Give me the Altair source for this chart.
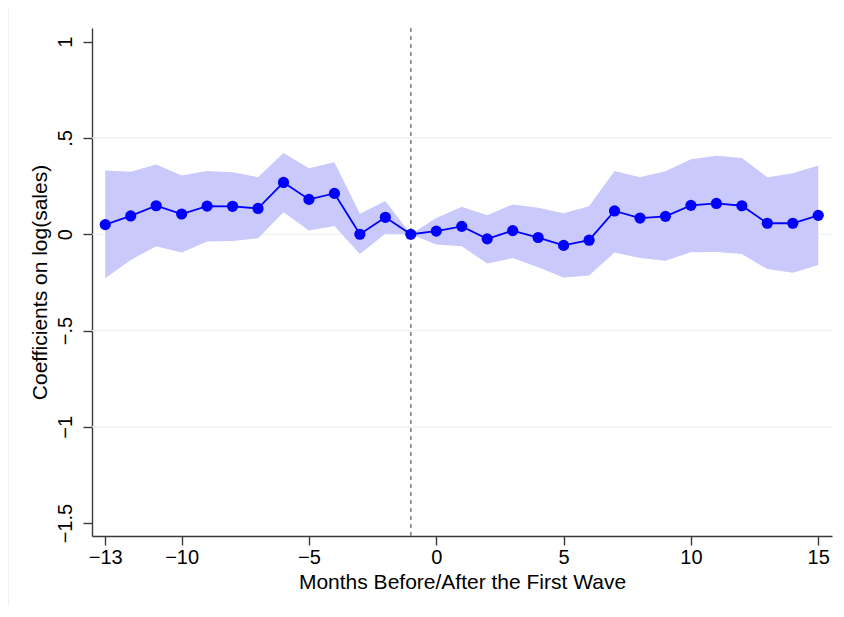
import altair as alt
import pandas as pd

months = list(range(-13, 16))
coef = [0.050, 0.095, 0.148, 0.105, 0.146, 0.145, 0.134, 0.269, 0.181, 0.212, 0.000, 0.088, 0.000,
        0.016, 0.041, -0.024, 0.019, -0.017, -0.058, -0.031, 0.121, 0.084, 0.093, 0.150, 0.160,
        0.148, 0.057, 0.057, 0.098]
upper = [0.331, 0.324, 0.362, 0.305, 0.329, 0.322, 0.296, 0.422, 0.343, 0.374, 0.107, 0.172, 0.000,
         0.084, 0.143, 0.098, 0.155, 0.138, 0.109, 0.146, 0.329, 0.296, 0.327, 0.389, 0.408,
         0.396, 0.296, 0.317, 0.357]
lower = [-0.229, -0.134, -0.062, -0.095, -0.038, -0.035, -0.021, 0.114, 0.019, 0.043, -0.103, 0.002, 0.000,
         -0.053, -0.062, -0.152, -0.124, -0.172, -0.224, -0.214, -0.095, -0.124, -0.138, -0.093, -0.092,
         -0.103, -0.181, -0.200, -0.160]
x_ticks = [-13, -10, -5, 0, 5, 10, 15]
y_ticks = [-1.5, -1, -0.5, 0, 0.5, 1]
grid_vals = [-1, -0.5, 0, 0.5]
event_line = [-1]

df = pd.DataFrame({"month": months, "coef": coef, "hi": upper, "lo": lower})
grid_df = pd.DataFrame({"coef": grid_vals})
vline_df = pd.DataFrame({"month": event_line})
frame_df = pd.DataFrame({"k": [0]})

XT = "Months Before/After the First Wave"
YT = "Coefficients on log(sales)"
xscale = alt.Scale(domain=[-13.52, 15.54], nice=False, zero=False)
yscale = alt.Scale(domain=[-1.567, 1.071], nice=False, zero=False)
lab = "replace(replace(format(datum.value, ''), '0.', '.'), '-', '\u2212')"
xaxis = alt.Axis(values=x_ticks, labelExpr=lab, grid=False, labelPadding=2, titlePadding=4)
yaxis = alt.Axis(values=y_ticks, labelExpr=lab, grid=False, labelAngle=-90,
                 labelAlign="center", labelBaseline="bottom", labelPadding=8, titlePadding=5)


def X(f):
    return alt.X(f, type="quantitative", scale=xscale, axis=xaxis, title=XT)


def Y(f):
    return alt.Y(f, type="quantitative", scale=yscale, axis=yaxis, title=YT)


frame = alt.Chart(frame_df).mark_rect(fill="transparent", stroke="#e6eef0", strokeWidth=1.5).encode(
    x=alt.value(-84), x2=alt.value(770), y=alt.value(-22), y2=alt.value(620))

grid = alt.Chart(grid_df).mark_rule(color="#e9f1f3", strokeWidth=1.2).encode(y=Y("coef"))

band = alt.Chart(df).mark_area(color="#c9c9fb", opacity=1).encode(
    x=X("month"), y=Y("lo"), y2="hi")

vline = alt.Chart(vline_df).mark_rule(color="#7a7a7a", strokeDash=[4, 4], strokeWidth=1.5).encode(
    x=X("month"))

line = alt.Chart(df).mark_line(color="#0000ff", strokeWidth=1.8).encode(x=X("month"), y=Y("coef"))
pts = alt.Chart(df).mark_circle(color="#0000ff", opacity=1, size=125).encode(x=X("month"), y=Y("coef"))

chart = alt.layer(frame, grid, band, vline, line, pts).properties(
    width=740, height=508,
    autosize=alt.AutoSizeParams(type="none"),
    padding={"left": 84, "top": 20, "right": 4, "bottom": 70},
).configure(background="white").configure_view(stroke=None).configure_axis(
    domainColor="#3a3a3a", domainWidth=1.4, tickColor="#3a3a3a", tickWidth=1.4, tickSize=9,
    labelFont="Liberation Sans", labelFontSize=20, labelColor="#000000",
    titleFont="Liberation Sans", titleFontSize=21, titleFontWeight="normal", titleColor="#000000",
)

chart.save("out.html", embed_options={"renderer": "svg", "actions": False})
